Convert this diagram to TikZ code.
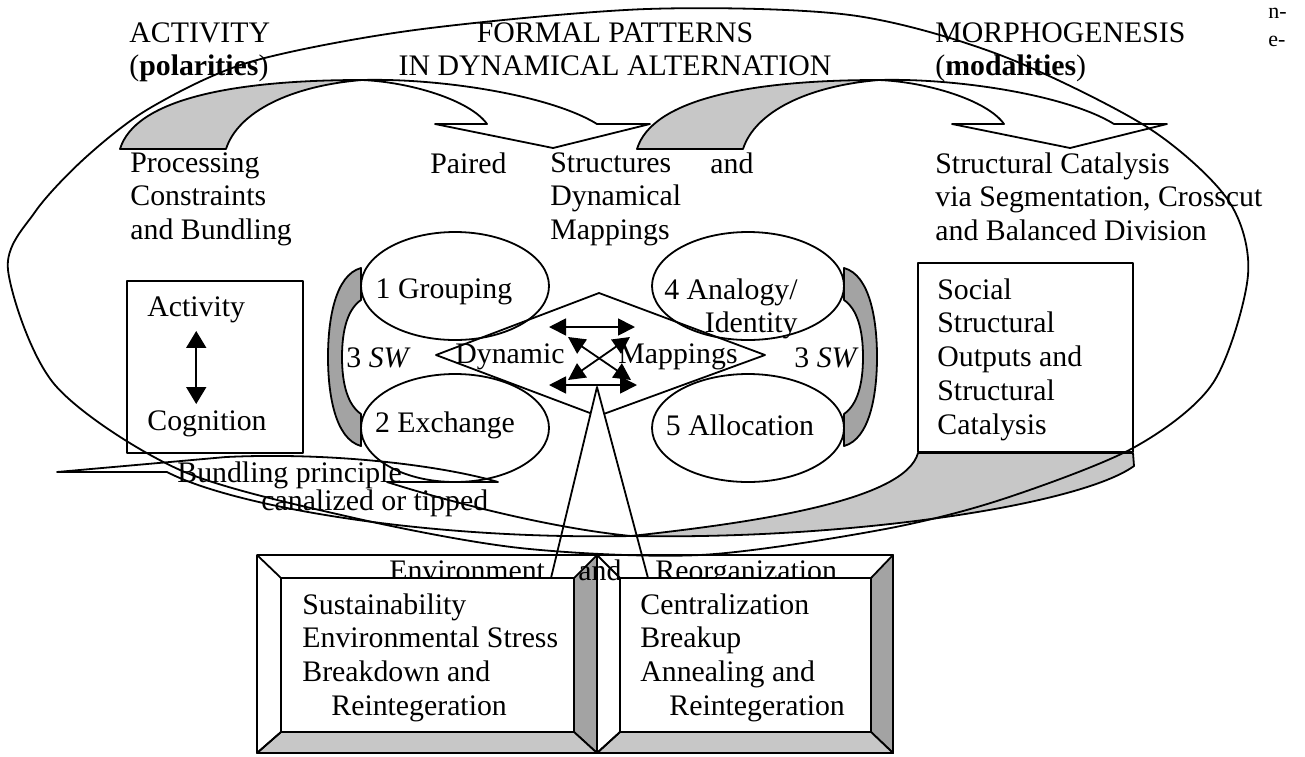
\documentclass[tikz,border=0pt]{standalone}
\usepackage{fontspec}
\setmainfont{Liberation Serif}
\usetikzlibrary{arrows.meta}
\definecolor{pLight}{gray}{0.78}
\definecolor{pDark}{gray}{0.64}
\tikzset{
    txt/.style={inner sep=0pt, align=left, font=\fontsize{14.9}{16.9}\selectfont},
    ln/.style={line width=0.9pt},
    dbla/.style={line width=0.9pt, {Triangle[length=8.5pt,width=10pt]}-{Triangle[length=8.5pt,width=10pt]}},
    dblx/.style={line width=0.9pt, {Triangle[length=8.5pt,width=8.5pt]}-{Triangle[length=8.5pt,width=8.5pt]}}
}

\begin{document}
\begin{tikzpicture}[x=0.5pt,y=-0.5pt,line join=round]
\useasboundingbox (0,0) rectangle (1305,756);
\clip (0,0) rectangle (1305,756);
\fill[white] (0,0) rectangle (1305,756);

\foreach \dx in {0,517}{
  \begin{scope}[shift={(\dx,0)}]
    \filldraw[ln,fill=pLight] (120,149) .. controls (135,100) and (230,80) .. (362,80)
        .. controls (290,86) and (238,112) .. (226,149) -- cycle;
    \draw[ln] (362,80) .. controls (440,78) and (550,95) .. (597,124) -- (650,124) -- (553,148)
        -- (435,124) -- (487,124) .. controls (470,100) and (410,82) .. (362,80);
  \end{scope}
}

\filldraw[ln,fill=pLight] (918,453) -- (1133,453) -- (1134,466) .. controls (1080,505) and (850,540) .. (631,536)
    .. controls (760,522) and (905,500) .. (918,453) -- cycle;
\draw[ln] (631,536) .. controls (420,540) and (230,505) .. (167,472) -- (57,472) -- (226,457)
    .. controls (330,452) and (440,465) .. (498,482) -- (387,482) .. controls (450,502) and (550,528) .. (631,536);

\foreach \sx/\ox in {1/0,-1/1205}{
  \filldraw[ln,fill=pDark,shift={(\ox,0)},xscale=\sx] (361,268) .. controls (335,275) and (328,320) .. (328,357)
      .. controls (328,394) and (335,439) .. (361,446) -- (361,414) .. controls (348,405) and (342,385) .. (342,357)
      .. controls (342,329) and (348,309) .. (361,300) -- cycle;
}

\draw[ln] plot[smooth cycle] coordinates {(8,270) (35,212) (85,158) (150,108) (250,62) (415,30) (647,9)
    (850,15) (1000,55) (1147,127) (1228,200) (1248,275) (1213,383) (1133,448) (1000,500) (880,530)
    (700,555) (520,548) (350,517) (180,470) (55,385)};

\draw[ln] (455,286) ellipse [x radius=94,y radius=54];
\draw[ln] (455,428) ellipse [x radius=94,y radius=54];
\draw[ln] (748,286) ellipse [x radius=96,y radius=54];
\draw[ln] (748,428) ellipse [x radius=96,y radius=54];

\foreach \xa/\xb/\xc/\xd in {257/281/574/597,597/620/871/893}{
  \filldraw[ln,fill=pDark] (\xd,555) -- (\xd,753) -- (\xc,732) -- (\xc,578) -- cycle;
  \filldraw[ln,fill=pLight] (\xa,753) -- (\xd,753) -- (\xc,732) -- (\xb,732) -- cycle;
  \draw[ln] (\xa,555) rectangle (\xd,753) (\xa,555) -- (\xb,578) (\xa,753) -- (\xb,732);
}
\node[txt, anchor=base west] (envw) at (389,580) {Environment};
\node[txt, anchor=base west] (andb) at (578,580) {and};
\node[txt, anchor=base west] (reor) at (655,580) {Reorganization};
\foreach \xb/\xc in {281/574,620/871}{
  \filldraw[ln,fill=white] (\xb,578) rectangle (\xc,732);
}

\coordinate (dN) at (599,293);
\coordinate (dW) at (436,355);
\coordinate (dE) at (765,355);
\coordinate (dS) at (598,416);
\coordinate (tA) at (597,387);
\coordinate (tL) at (551,578);
\coordinate (tR) at (648,578);
\draw[ln] (intersection of dW--dS and tA--tL) -- (dW) -- (dN) -- (dE) -- (intersection of dE--dS and tA--tR);
\draw[ln] (tL) -- (tA) -- (tR);

\coordinate (xa) at (549,327);
\coordinate (xb) at (635,327);
\coordinate (xc) at (549,385);
\coordinate (xd) at (637,385);
\draw[dblx] (xa) -- (xb);
\draw[dblx] (xc) -- (xd);
\draw[dblx] (568,337) -- (631,380);
\draw[dblx] (630,337) -- (568,380);

\node[draw, ln, minimum width=88pt, minimum height=86pt] (actbox) at (215,367) {};
\node[draw, ln, minimum width=107.5pt, minimum height=94.5pt] (socbox) at (1025.5,357.5) {};
\node[txt, anchor=north west] (actv) at (147,296) {Activity};
\node[txt, anchor=north west] (cogn) at (147,410) {Cognition};
\draw[dbla, shorten <=4pt, shorten >=3pt] (actv.south) -- (actv.south |- cogn.north);
\node[txt, anchor=north west] (soc) at (937,278) {Social\\Structural\\Outputs and\\Structural\\Catalysis};

\node[txt, anchor=north west] (actt) at (129,22) {ACTIVITY\\(\textbf{polarities})};
\node[txt, anchor=north, align=center] (fpat) at (615,22) {FORMAL PATTERNS\\IN DYNAMICAL ALTERNATION};
\node[txt, anchor=north west] (morp) at (935,22) {MORPHOGENESIS\\(\textbf{modalities})};
\node[txt, anchor=north west] (proc) at (130,152) {Processing\\Constraints\\and Bundling};
\node[txt, anchor=north west] (pair) at (430,152) {Paired};
\node[txt, anchor=north west] (strc) at (550,152) {Structures\\Dynamical\\Mappings};
\node[txt, anchor=north west] (andw) at (710,152) {and};
\node[txt, anchor=north west] (scat) at (935,152) {Structural Catalysis\\via Segmentation, Crosscut\\and Balanced Division};

\node[txt] (grpl) at (444,292) {1 Grouping};
\node[txt] (excl) at (445,425) {2 Exchange};
\node[txt, align=right, anchor=north east] (anal) at (798,278) {4 Analogy/\\Identity};
\node[txt] (allc) at (740,425) {5 Allocation};
\node[txt, anchor=west] (swl) at (346,358) {3 \textit{SW}};
\node[txt, anchor=west] (swr) at (794,358) {3 \textit{SW}};
\node[txt, anchor=east] (dyn) at (565,357) {Dynamic};
\node[txt, anchor=west] (map) at (618,357) {Mappings};

\node[txt, anchor=base west] (bund) at (177,482) {Bundling principle};
\node[txt, anchor=base west] (cana) at (261,510) {canalized or tipped};

\node[txt, anchor=north west] (sust) at (302,593) {Sustainability\\Environmental Stress\\Breakdown and\\\hspace*{14.5pt}Reintegeration};
\node[txt, anchor=north west] (cent) at (640,593) {Centralization\\Breakup\\Annealing and\\\hspace*{14.5pt}Reintegeration};

\node[inner sep=0pt, font=\fontsize{11}{14}\selectfont, anchor=north west] (nhy) at (1268,8) {n-};
\node[inner sep=0pt, font=\fontsize{11}{14}\selectfont, anchor=base west] (ehy) at (1268,46) {e-};
\end{tikzpicture}
\end{document}
